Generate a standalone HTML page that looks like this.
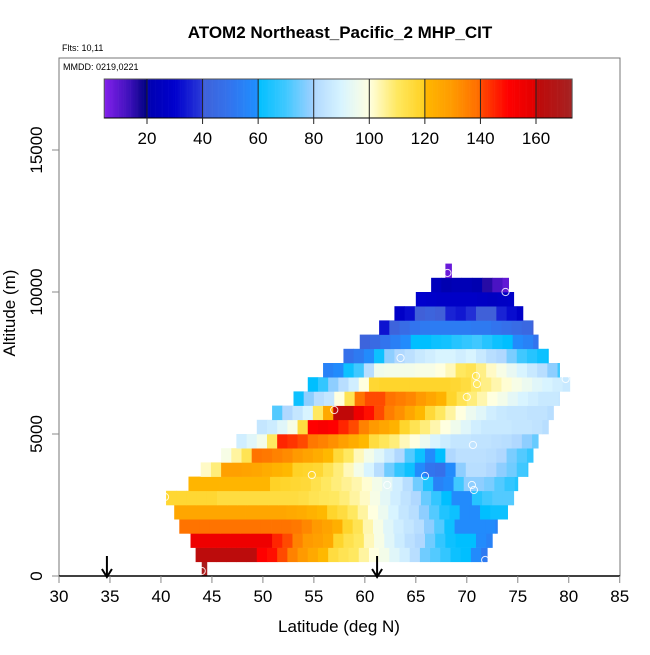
<!DOCTYPE html>
<html><head><meta charset="utf-8"><style>
body{margin:0;background:#fff}
svg text{font-family:"Liberation Sans",sans-serif}
</style></head><body>
<svg width="650" height="650" viewBox="0 0 650 650" xmlns="http://www.w3.org/2000/svg">
<rect x="0" y="0" width="650" height="650" fill="#fff"/>
<text x="340" y="38" font-size="17" font-weight="bold" text-anchor="middle">ATOM2 Northeast_Pacific_2 MHP_CIT</text>
<text x="62" y="51" font-size="9">Flts: 10,11</text>
<g id="cells"></g>
<g id="circles"></g>
<rect x="59" y="58" width="561" height="518" fill="none" stroke="#777" stroke-width="1"/>
<line x1="59" y1="576" x2="620" y2="576" stroke="#000" stroke-width="1.5"/>
<text x="63" y="70" font-size="9">MMDD: 0219,0221</text>
<g id="cbar"></g>
<g id="xaxis"></g>
<g id="yaxis"></g>
<g id="arrows"></g>
<text x="339" y="632" font-size="17" text-anchor="middle">Latitude (deg N)</text>
<text transform="translate(15,313) rotate(-90)" font-size="17" text-anchor="middle">Altitude (m)</text>
</svg>
<script>
const rowK=[0,1,2,3,4,5,6,7,8,9,10,11,12,13,14,15,16,17,18,19,20,21];
const rowStart=[44,43.4,42.9,41.8,41.3,40.5,42.7,43.9,45.9,47.4,49.4,50.9,53,54.4,55.9,57.9,59.5,61.4,62.9,65,66.5,67.9];
const rowEnd=[44.5,72,72.5,73,74,74.6,75,76,76.5,77,78,78.5,79.1,80.1,79.1,78,77,76.5,75.5,74.6,74.1,68.5];
const rowVals=[
[170],
[162,162,162,162,162,162,150,148,140,135,130,125,120,115,112,110,105,100,97,92,88,82,75,72,68,62,60,58,52],
[155,155,155,155,155,155,155,155,145,140,135,130,128,125,118,113,110,103,98,92,87,83,80,75,68,62,60,60,58,55],
[138,138,138,138,138,138,138,138,138,138,138,137,134,130,127,123,118,112,104,98,92,88,85,82,78,72,62,58,58,58,58,55],
[126,126,126,126,126,126,126,126,126,126,126,125,124,122,120,118,115,110,105,100,95,90,85,82,78,72,65,62,58,58,60,62,62],
[117,117,117,117,117,115,115,115,115,115,115,115,115,114,112,111,110,108,105,102,98,93,88,84,80,74,68,60,58,58,66,70,72,72,72],
[121,121,121,121,121,121,121,121,119,118,117,116,113,110,108,106,104,101,97,93,88,82,75,65,55,58,70,78,78,76,72,68,65],
[102,108,128,128,127,126,124,122,120,119,118,117,112,108,103,97,90,82,75,68,62,58,50,48,58,78,82,82,80,78,75,70,68],
[98,105,112,138,137,135,133,130,127,124,120,116,110,103,97,92,86,80,72,62,58,60,80,83,83,83,82,80,76,72,68],
[88,92,97,110,145,143,140,137,135,132,128,124,120,115,111,108,103,100,95,90,87,85,85,84,84,83,82,80,78,74],
[85,87,92,98,115,150,152,150,145,140,135,130,126,122,118,112,108,104,100,96,92,88,86,86,86,85,85,84,82],
[72,80,85,90,110,125,160,160,155,148,140,136,132,126,120,116,110,105,100,95,92,88,86,85,85,84,84,82],
[62,78,82,85,100,112,138,140,140,138,136,134,130,126,122,118,112,108,104,100,97,93,90,88,86,86,85],
[60,68,78,82,88,100,117,118,118,118,118,118,118,118,117,115,110,107,104,101,98,95,92,90,88,86],
[55,58,62,70,82,96,97,97,97,98,98,100,103,110,112,107,102,98,94,90,86,82,78,70],
[48,52,58,62,78,80,83,86,88,90,90,88,90,86,82,80,76,70,66,62,60],
[42,45,50,54,58,60,60,62,63,66,68,70,66,62,60,58,55,50],
[33,42,46,50,52,53,53,53,53,52,52,50,48,46,44,40],
[28,32,40,42,40,36,34,38,40,40,36,32,28],
[30,29,28,28,28,28,27,26,27,28],
[24,20,22,22,20,16,12,9],
[8]];
const ptLat=[68.1,73.8,63.5,70.9,71.0,70.0,57.0,79.7,70.6,54.8,62.2,65.9,70.5,70.7,71.8,44.0,40.4];
const ptAlt=[10670,10000,7676,7042,6760,6303,5845,6937,4613,3556,3204,3521,3204,3028,563,176,2782];
const xTicks=[30,35,40,45,50,55,60,65,70,75,80,85];
const yTicks=[0,5000,10000,15000];
const cbTicks=[20,40,60,80,100,120,140,160];
const arrowLat=[34.7,61.2];
const cbMin=4.6, cbMax=173;

const NS='http://www.w3.org/2000/svg';
const xs=lat=>59+(lat-30)*10.195;
const ys=alt=>576-alt*0.0284;
const cbx=v=>147+(v-20)*(536-147)/140;
const stops=[[4.6,'#8420ec'],[14,'#3a10b8'],[19.9,'#000080'],[20,'#0000b0'],[30,'#0000cd'],[39.9,'#2a3ad8'],[40,'#4060d8'],[50,'#3274ee'],[59.9,'#1e90ff'],[60,'#00bfff'],[70,'#40c8ff'],[79.9,'#a0d0ff'],[80,'#b0d8ff'],[90,'#d8f4ff'],[100,'#ffffe0'],[110,'#ffe860'],[119.9,'#ffd020'],[120,'#ffb800'],[130,'#ff9a00'],[139.9,'#ff6a00'],[140,'#ff4a00'],[150,'#ff0000'],[159.9,'#e00000'],[160,'#c00808'],[173,'#a52222']];
function hex(h){return [1,3,5].map(i=>parseInt(h.substr(i,2),16));}
function col(v){
  if(v<=stops[0][0])return stops[0][1];
  for(let i=1;i<stops.length;i++){
    if(v<=stops[i][0]){const a=hex(stops[i-1][1]),b=hex(stops[i][1]);const t=(v-stops[i-1][0])/(stops[i][0]-stops[i-1][0]);
      return 'rgb('+a.map((c,j)=>Math.round(c+(b[j]-c)*t)).join(',')+')';}
  }
  return stops[stops.length-1][1];
}
function mk(tag,attrs,parent){const e=document.createElementNS(NS,tag);for(const k in attrs)e.setAttribute(k,attrs[k]);parent.appendChild(e);return e;}

const cells=document.getElementById('cells');
rowK.forEach((k,ri)=>{
  const vals=rowVals[ri];
  vals.forEach((v,ci)=>{
    const l0=rowStart[ri]+ci, l1=Math.min(l0+1,rowEnd[ri]);
    const x0=xs(l0),x1=xs(l1),y0=ys(500*(k+1)),y1=ys(500*k);
    const r=mk('rect',{x:x0.toFixed(2),y:y0.toFixed(2),width:(x1-x0+0.4).toFixed(2),height:(y1-y0+0.3).toFixed(2),fill:col(v)},cells);
    
    
  });
});
const circ=document.getElementById('circles');
ptLat.forEach((la,i)=>{
  const c=mk('circle',{cx:xs(la),cy:ys(ptAlt[i]),r:3.6,fill:'none',stroke:'#fff','stroke-width':1,'stroke-opacity':0.85},circ);
  
  
});
const cb=document.getElementById('cbar');
for(let v=cbMin;v<cbMax;v+=0.5){
  const x0=cbx(v),x1=cbx(Math.min(v+0.5,cbMax));
  const r=mk('rect',{x:x0,y:79,width:x1-x0+0.3,height:39,fill:col(v+0.25)},cb);
  
  
}
mk('rect',{x:cbx(cbMin),y:79,width:cbx(cbMax)-cbx(cbMin),height:39,fill:'none',stroke:'#555','stroke-width':1},cb);
mk('line',{x1:cbx(cbMin),y1:118,x2:cbx(cbMax),y2:118,stroke:'#000','stroke-width':1},cb);
cbTicks.forEach(v=>{
  const l=mk('line',{x1:cbx(v),y1:79,x2:cbx(v),y2:124,stroke:'#222','stroke-width':1},cb);
  
  
  const t=mk('text',{x:cbx(v),y:144,'font-size':17,'text-anchor':'middle'},cb);
  t.textContent=v;
  
  
});
const xa=document.getElementById('xaxis');
xTicks.forEach(v=>{
  const l=mk('line',{x1:xs(v),y1:576,x2:xs(v),y2:583,stroke:'#888','stroke-width':1},xa);
  
  
  const t=mk('text',{x:xs(v),y:602,'font-size':17,'text-anchor':'middle'},xa);
  t.textContent=v;
  
  
});
const ya=document.getElementById('yaxis');
yTicks.forEach(v=>{
  const l=mk('line',{x1:52,y1:ys(v),x2:59,y2:ys(v),stroke:'#888','stroke-width':1},ya);
  
  
  const t=mk('text',{transform:'translate(42,'+ys(v)+') rotate(-90)','font-size':17,'text-anchor':'middle'},ya);
  t.textContent=v;
  
  
});
const ar=document.getElementById('arrows');
arrowLat.forEach(la=>{
  const x=xs(la);
  const g=mk('g',{},ar);
  
  
  mk('line',{x1:x,y1:556,x2:x,y2:576,stroke:'#000','stroke-width':2},g);
  mk('polyline',{points:(x-5)+',569 '+x+',577 '+(x+5)+',569',fill:'none',stroke:'#000','stroke-width':2},g);
});
</script>
</body></html>
